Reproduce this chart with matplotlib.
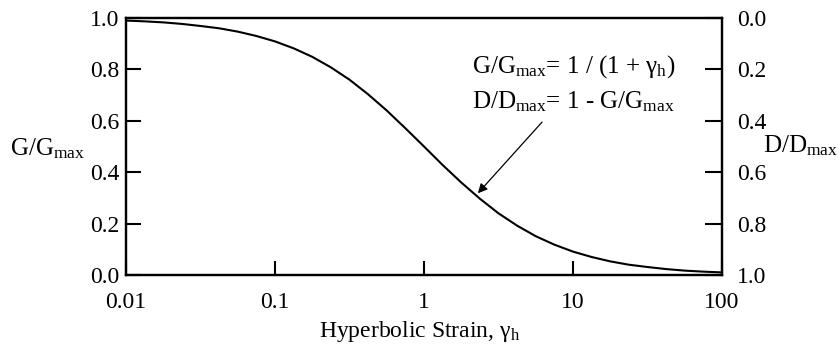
import numpy as np
import matplotlib
matplotlib.use('Agg')
import matplotlib.pyplot as plt

plt.rcParams['font.family'] = ['Liberation Serif', 'DejaVu Serif']
plt.rcParams['mathtext.fontset'] = 'custom'
plt.rcParams['mathtext.rm'] = 'Liberation Serif'
plt.rcParams['mathtext.it'] = 'Liberation Serif:italic'

# hyperbolic strain and modulus ratio
strain = [0.01, 0.01334, 0.01778, 0.02371, 0.03162, 0.04217, 0.05623, 0.07499,
          0.1, 0.1334, 0.1778, 0.2371, 0.3162, 0.4217, 0.5623, 0.7499,
          1, 1.334, 1.778, 2.371, 3.162, 4.217, 5.623, 7.499,
          10, 13.34, 17.78, 23.71, 31.62, 42.17, 56.23, 74.99, 100]
g_ratio = [0.990, 0.987, 0.983, 0.977, 0.969, 0.960, 0.947, 0.930,
           0.909, 0.882, 0.849, 0.808, 0.760, 0.703, 0.640, 0.571,
           0.500, 0.428, 0.360, 0.297, 0.240, 0.192, 0.151, 0.118,
           0.091, 0.070, 0.053, 0.040, 0.031, 0.023, 0.017, 0.013, 0.010]

x_ticks = [0.01, 0.1, 1, 10, 100]
x_labels = ['0.01', '0.1', '1', '10', '100']
y_ticks = [0.0, 0.2, 0.4, 0.6, 0.8, 1.0]

fig = plt.figure(figsize=(8.4, 3.53), dpi=100)
ax = fig.add_axes([0.15, 0.221, 0.7095, 0.728])

ax.plot(strain, g_ratio, color='black', lw=1.5)
ax.set_xscale('log')
ax.set_xlim(0.01, 100)
ax.set_ylim(0, 1)
ax.set_xticks(x_ticks)
ax.set_xticklabels(x_labels)
ax.minorticks_off()
ax.set_yticks(y_ticks)
ax.set_yticklabels(['%.1f' % v for v in y_ticks])

for s in ax.spines.values():
    s.set_linewidth(1.6)
ax.tick_params(axis='x', direction='in', length=10, width=1.5, labelsize=17, pad=12)
ax.tick_params(axis='y', direction='in', length=11, width=1.5, labelsize=17, pad=5)

# right axis shows damping ratio (inverted)
ax2 = ax.twinx()
ax2.set_ylim(1, 0)
ax2.set_yticks(y_ticks)
ax2.set_yticklabels(['%.1f' % v for v in y_ticks])
ax2.tick_params(axis='y', direction='in', length=12, width=1.5, labelsize=17, pad=11)
for s in ax2.spines.values():
    s.set_linewidth(1.6)

fig.text(0.5, 0.045, 'Hyperbolic Strain, \u03b3$_{\\rm h}$', fontsize=17,
         ha='center', va='baseline', transform=fig.transFigure)
fig.text(0.012, 0.561, 'G/G$_{\\rm max}$', fontsize=18, va='baseline', ha='left')
fig.text(0.908, 0.567, 'D/D$_{\\rm max}$', fontsize=18, va='baseline', ha='left')

fig.text(0.562, 0.793, 'G/G$_{\\rm max}$= 1 / (1 + \u03b3$_{\\rm h}$)', fontsize=18,
         va='baseline')
fig.text(0.562, 0.694, 'D/D$_{\\rm max}$= 1 - G/G$_{\\rm max}$', fontsize=18,
         va='baseline')
ax.annotate('', xy=(2.3, 0.318), xytext=(6.2, 0.595),
            arrowprops=dict(arrowstyle='-|>', color='black', lw=0.9,
                            mutation_scale=14, shrinkA=0, shrinkB=0))

fig.savefig('out.png', dpi=100)
